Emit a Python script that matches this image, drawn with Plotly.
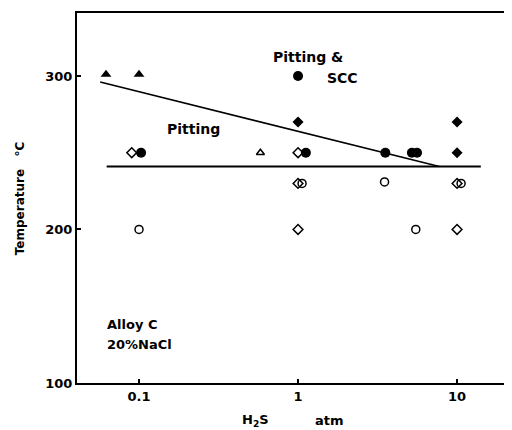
import plotly.graph_objects as go

# Data (H2S pressure in atm, temperature in °C)
tri_filled_x = [0.062, 0.1]
tri_filled_y = [301, 301]
tri_open_x = [0.58]
tri_open_y = [250]
circ_filled_x = [0.103, 1.0, 1.12, 3.54, 5.2, 5.6]
circ_filled_y = [250, 300, 250, 250, 250, 250]
circ_open_x = [0.1, 1.06, 3.5, 5.5, 10.6]
circ_open_y = [200, 230, 231, 200, 230]
dia_filled_x = [1.0, 10.0, 10.0]
dia_filled_y = [270, 270, 250]
dia_open_x = [0.09, 1.0, 1.0, 1.0, 10.0, 10.0]
dia_open_y = [250, 250, 230, 200, 230, 200]
boundary_x = [0.057, 7.74]
boundary_y = [296, 241]
horiz_x = [0.0626, 14.1]
horiz_y = [241, 241]
x_ticks = [0.1, 1, 10]
x_tick_labels = ["0.1", "1", "10"]
y_ticks = [100, 200, 300]
y_tick_labels = ["100", "200", "300"]

FONT = "DejaVu Sans, Verdana, sans-serif"
BF = dict(family=FONT, size=13, color="black", weight="bold")
fig = go.Figure()

fig.add_trace(go.Scatter(x=boundary_x, y=boundary_y, mode="lines",
                         line=dict(color="black", width=1.5), showlegend=False))
fig.add_trace(go.Scatter(x=horiz_x, y=horiz_y, mode="lines",
                         line=dict(color="black", width=2), showlegend=False))

def pts(x, y, sym, size, lw=1.5):
    fig.add_trace(go.Scatter(x=x, y=y, mode="markers", showlegend=False,
                             marker=dict(symbol=sym, size=size, color="black",
                                         line=dict(color="black", width=lw))))

pts(tri_filled_x, tri_filled_y, "triangle-up", 9.5, 0)
pts(tri_open_x, tri_open_y, "triangle-up-open", 7)
pts(circ_filled_x, circ_filled_y, "circle", 10, 0)
pts(circ_open_x, circ_open_y, "circle-open", 8)
pts(dia_filled_x, dia_filled_y, "diamond", 8.5, 0)
pts(dia_open_x, dia_open_y, "diamond-open", 7.5)

data_labels = [
    dict(x=-0.66, y=265.5, text="Pitting", xanchor="center", size=14),
    dict(x=0.063, y=312.4, text="Pitting &amp;", xanchor="center", size=14),
    dict(x=0.277, y=298.8, text="SCC", xanchor="center", size=14),
    dict(x=-1.214, y=137.8, text="Alloy C", xanchor="left", size=13),
    dict(x=-1.214, y=124.8, text="20%NaCl", xanchor="left", size=13),
]
annotations = []
for a in data_labels:
    f = dict(BF)
    f["size"] = a["size"]
    annotations.append(dict(xref="x", yref="y", x=a["x"], y=a["y"], text=a["text"],
                            xanchor=a["xanchor"], yanchor="middle", showarrow=False, font=f))
annotations += [
    dict(xref="paper", yref="paper", x=0.416, y=-0.1, xanchor="center", yanchor="middle",
         showarrow=False, text="H<sub>2</sub>S", font=BF),
    dict(xref="paper", yref="paper", x=0.588, y=-0.1, xanchor="center", yanchor="middle",
         showarrow=False, text="atm", font=BF),
    dict(xref="paper", yref="paper", x=-0.132, y=0.5, xanchor="center", yanchor="middle",
         showarrow=False, textangle=-90, text="Temperature   °C",
         font=dict(family=FONT, size=12, color="black", weight="bold")),
]

axis_common = dict(ticks="inside", ticklen=4, tickwidth=2, tickcolor="black",
                   showline=True, linecolor="black", linewidth=2, mirror=True,
                   showgrid=False, zeroline=False, tickfont=BF)

# Page has an 8px body margin, so the figure is sized/offset to compensate
fig.update_layout(
    width=504, height=422,
    margin=dict(l=69, r=3, t=5, b=47),
    paper_bgcolor="white", plot_bgcolor="white",
    font=BF,
    annotations=annotations,
    xaxis=dict(type="log", range=[-1.39, 1.314], tickvals=x_ticks, ticktext=x_tick_labels,
               **axis_common),
    yaxis=dict(range=[100, 341], tickvals=y_ticks, ticktext=y_tick_labels, **axis_common),
)

fig.write_html("out.html")
